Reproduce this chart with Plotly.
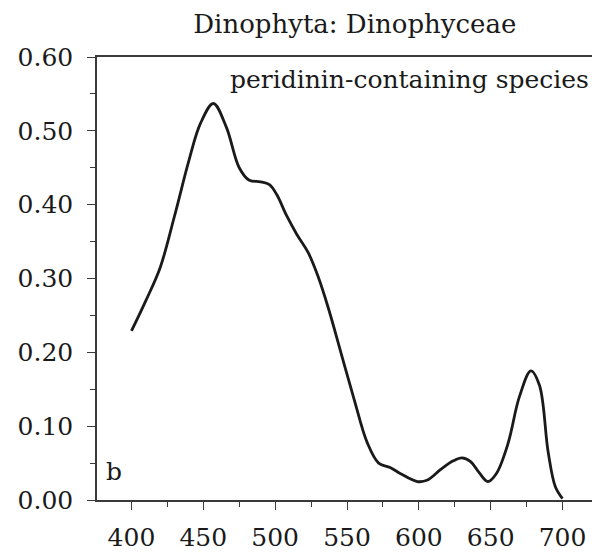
import plotly.graph_objects as go

# absorption spectrum
wavelength = [400, 410, 420, 430, 440, 448, 457, 466, 475, 482, 490, 496, 501, 508,
              515, 523, 530, 537, 546, 555, 564, 572, 580, 587, 599, 606, 615, 624,
              630, 636, 642, 648, 654, 662, 670, 678, 684, 690, 695, 700]
absorbance = [0.229, 0.27, 0.315, 0.385, 0.46, 0.51, 0.537, 0.505, 0.45, 0.433, 0.431,
              0.427, 0.414, 0.385, 0.36, 0.335, 0.302, 0.26, 0.198, 0.136, 0.078, 0.05,
              0.044, 0.036, 0.025, 0.027, 0.041, 0.053, 0.057, 0.052, 0.037, 0.025,
              0.036, 0.076, 0.14, 0.175, 0.155, 0.065, 0.018, 0.002]

x_ticks = [400, 450, 500, 550, 600, 650, 700]
y_ticks = [0.0, 0.1, 0.2, 0.3, 0.4, 0.5, 0.6]

FONT = "DejaVu Serif"
INK = "#1a1a1a"
AXIS = "#3a3a3a"

fig = go.Figure(go.Scatter(
    x=wavelength, y=absorbance, mode="lines", line_shape="spline",
    line=dict(color=INK, width=2.8), hoverinfo="skip",
))

axis_common = dict(
    showline=True, linecolor=AXIS, linewidth=1.5, mirror=True,
    ticks="outside", tickcolor=AXIS, ticklen=8, tickwidth=1.3,
    showgrid=False, zeroline=False,
    tickfont=dict(family=FONT, size=25, color=INK),
)

# page body adds an 8px offset, margins below account for it
fig.update_layout(
    width=600, height=554,
    paper_bgcolor="white", plot_bgcolor="white",
    margin=dict(l=84, r=10, t=49, b=53),
    showlegend=False,
    font=dict(family=FONT, color=INK),
    title=dict(text="Dinophyta: Dinophyceae", x=0.578, xanchor="center", y=0.971,
               yanchor="middle", font=dict(family=FONT, size=26, color=INK)),
    xaxis=dict(axis_common, range=[376, 723.3], tickvals=x_ticks, ticklabelstandoff=6,
               minor=dict(ticks="outside", dtick=25, tick0=400, ticklen=5, tickcolor=AXIS)),
    yaxis=dict(axis_common, range=[0, 0.6], tickvals=y_ticks, tickformat=".2f",
               ticklabelstandoff=9,
               minor=dict(ticks="outside", dtick=0.05, ticklen=5, tickcolor=AXIS)),
    annotations=[
        dict(text="peridinin-containing species", xref="paper", yref="paper",
             x=0.99, y=0.949, xanchor="right", yanchor="middle", showarrow=False,
             font=dict(family=FONT, size=25, color=INK)),
        dict(text="b", xref="paper", yref="paper", x=0.014, y=0.064,
             xanchor="left", yanchor="middle", showarrow=False,
             font=dict(family=FONT, size=25, color=INK)),
    ],
)

fig.write_html("out.html")
